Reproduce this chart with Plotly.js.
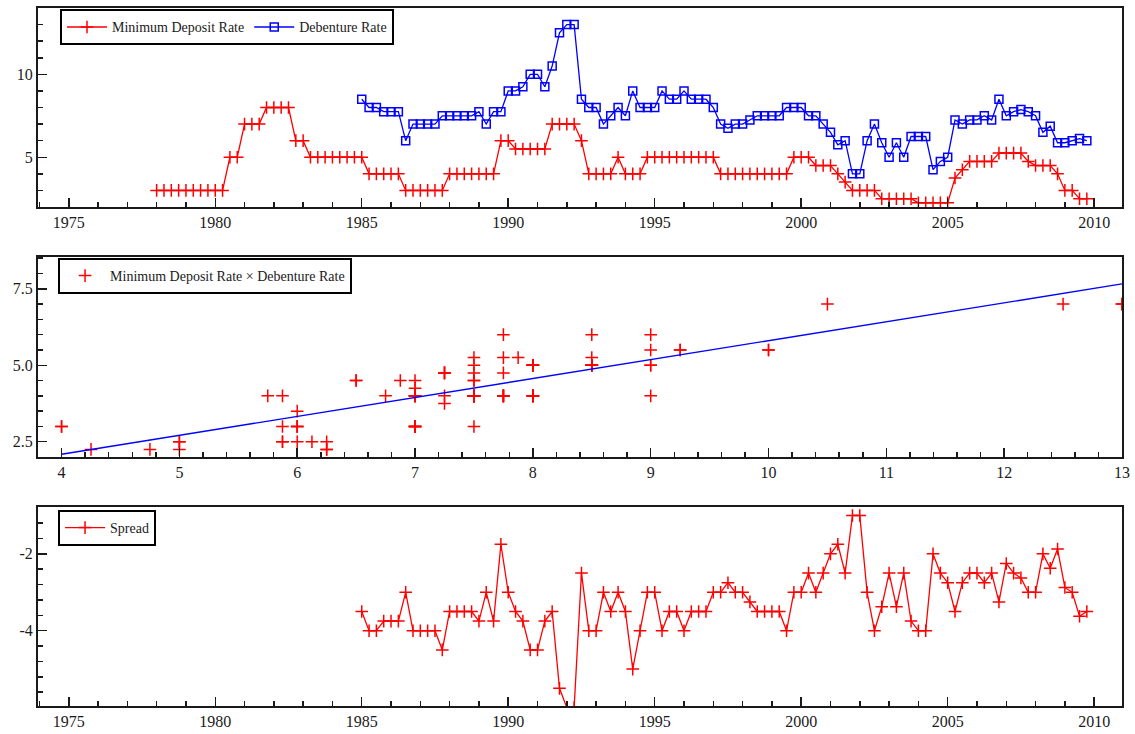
<!DOCTYPE html>
<html>
<head>
<meta charset="utf-8">
<script src="https://cdn.plot.ly/plotly-3.0.1.min.js"></script>
<style>html,body{margin:0;padding:0;background:#fff;}#chart{width:1135px;height:734px;}</style>
</head>
<body>
<div id="chart"></div>
<script>
// Quarterly data. Minimum Deposit Rate starts 1978Q1, Debenture Rate and Spread start 1985Q1.
const depositStart = 1978;
const depositRate = [
  3,3,3,3,   3,3,3,3,   3,3,5,5,   7,7,7,8,
  8,8,8,6,   6,5,5,5,   5,5,5,5,   5,4,4,4,
  4,4,3,3,   3,3,3,3,   4,4,4,4,   4,4,4,6,
  6,5.5,5.5,5.5, 5.5,5.5,7,7, 7,7,6,4, 4,4,4,5,
  4,4,4,5,   5,5,5,5,   5,5,5,5,   5,4,4,4,
  4,4,4,4,   4,4,4,5,   5,5,4.5,4.5, 4.5,4,3.5,3,
  3,3,3,2.5, 2.5,2.5,2.5,2.5, 2.25,2.25,2.25,2.25, 2.25,3.75,4.25,4.75,
  4.75,4.75,4.75,5.25, 5.25,5.25,5.25,4.75, 4.5,4.5,4.5,4, 3,3,2.5,2.5
];
const debentureStart = 1985;
const debentureRate = [
  8.5,8,8,7.75,   7.75,7.75,6,7,   7,7,7,7.5,   7.5,7.5,7.5,7.5,
  7.75,7,7.75,7.75, 9,9,9.25,10,  10,9.25,10.5,12.5, 13,13,8.5,8,
  8,7,7.5,8,      7.5,9,8,8,      8,9,8.5,8.5,  9,8.5,8.5,8.5,
  8,7,6.75,7,     7,7.25,7.5,7.5, 7.5,7.5,8,8,  8,7.5,7.5,7,
  6.5,5.75,6,4,   4,6,7,5.875,    5,5.875,5,6.25, 6.25,6.25,4.25,4.75,
  5,7.25,7,7.25,  7.25,7.5,7.25,8.5, 7.5,7.75,7.875,7.75, 7.5,6.5,6.875,5.875,
  5.875,6,6.125,6
];
const spreadStart = 1985;
const spread = [
  -3.5,-4,-4,-3.75,   -3.75,-3.75,-3,-4,   -4,-4,-4,-4.5,   -3.5,-3.5,-3.5,-3.5,
  -3.75,-3,-3.75,-1.75, -3,-3.5,-3.75,-4.5, -4.5,-3.75,-3.5,-5.5, -6,-6,-2.5,-4,
  -4,-3,-3.5,-3,      -3.5,-5,-4,-3,       -3,-4,-3.5,-3.5,   -4,-3.5,-3.5,-3.5,
  -3,-3,-2.75,-3,     -3,-3.25,-3.5,-3.5,  -3.5,-3.5,-4,-3,   -3,-2.5,-3,-2.5,
  -2,-1.75,-2.5,-1,   -1,-3,-4,-3.375,     -2.5,-3.375,-2.5,-3.75, -4,-4,-2,-2.5,
  -2.75,-3.5,-2.75,-2.5, -2.5,-2.75,-2.5,-3.25, -2.25,-2.5,-2.625,-3, -3,-2,-2.375,-1.875,
  -2.875,-3,-3.625,-3.5
];
// Fitted regression line in the scatter panel (end points)
const fitX = [4, 13];
const fitY = [2.09, 7.66];

const seriesNames = ['Minimum Deposit Rate', 'Debenture Rate', 'Minimum Deposit Rate \u00d7 Debenture Rate', 'Spread'];

function quarters(start, n) { const a = []; for (let i = 0; i < n; i++) a.push(start + i / 4); return a; }
const depX = quarters(depositStart, depositRate.length);
const debX = quarters(debentureStart, debentureRate.length);
const sprX = quarters(spreadStart, spread.length);

// scatter pairs: deposit rate vs debenture rate at the same quarter
const scX = [], scY = [];
debX.forEach((t, i) => {
  const j = Math.round((t - depositStart) * 4);
  if (j >= 0 && j < depositRate.length) { scX.push(debentureRate[i]); scY.push(depositRate[j]); }
});

const RED = '#ff0000', BLUE = '#0000ff', INK = '#1a1a1a';
const FONT = 'Liberation Serif, Times New Roman, serif';
const crossMarker = {symbol: 'cross-thin', size: 9, line: {color: RED, width: 1.5}, color: RED};

const traces = [
  {x: depX, y: depositRate, name: seriesNames[0], mode: 'lines+markers', xaxis: 'x', yaxis: 'y', legend: 'legend',
   line: {color: RED, width: 1.3}, marker: crossMarker},
  {x: debX, y: debentureRate, name: seriesNames[1], mode: 'lines+markers', xaxis: 'x', yaxis: 'y', legend: 'legend',
   line: {color: BLUE, width: 1.3}, marker: {symbol: 'square-open', size: 8, color: BLUE, line: {color: BLUE, width: 1.5}}},
  {x: scX, y: scY, name: seriesNames[2], mode: 'markers', xaxis: 'x2', yaxis: 'y2', legend: 'legend2', marker: crossMarker},
  {x: fitX, y: fitY, name: 'fit', mode: 'lines', xaxis: 'x2', yaxis: 'y2', showlegend: false, line: {color: BLUE, width: 1.4}},
  {x: sprX, y: spread, name: seriesNames[3], mode: 'lines+markers', xaxis: 'x3', yaxis: 'y3', legend: 'legend3',
   line: {color: RED, width: 1.3}, marker: crossMarker}
];

function axisBase(extra) {
  return Object.assign({
    showline: true, mirror: true, linewidth: 2, linecolor: INK,
    showgrid: false, zeroline: false,
    ticks: 'inside', ticklen: 9, tickwidth: 1.5, tickcolor: INK,
    tickfont: {family: FONT, size: 16, color: INK},
    fixedrange: true
  }, extra);
}
const legendBase = {
  orientation: 'h', xanchor: 'left', yanchor: 'top',
  bgcolor: '#ffffff', bordercolor: '#000000', borderwidth: 2,
  font: {family: FONT, size: 14, color: INK},
  itemwidth: 40, tracegroupgap: 0
};

const layout = {
  width: 1135, height: 734,
  margin: {l: 38, r: 13, t: 8, b: 28},
  paper_bgcolor: '#ffffff', plot_bgcolor: '#ffffff',
  showlegend: true,
  xaxis: axisBase({domain: [0, 1], anchor: 'y', range: [1973.95, 2010.95], tick0: 1975, dtick: 5,
    minor: {ticks: 'inside', ticklen: 5, tickwidth: 1.5, tickcolor: INK, dtick: 1, tick0: 1975}}),
  yaxis: axisBase({domain: [0.7149, 1], anchor: 'x', range: [2, 14], tick0: 0, dtick: 5,
    minor: {ticks: 'inside', ticklen: 5, tickwidth: 1.5, tickcolor: INK, dtick: 1, tick0: 0}}),
  xaxis2: axisBase({domain: [0, 1], anchor: 'y2', range: [3.8, 13.0001], tick0: 0, dtick: 1,
    minor: {ticks: 'inside', ticklen: 5, tickwidth: 1.5, tickcolor: INK, dtick: 0.2, tick0: 0}}),
  yaxis2: axisBase({domain: [0.3567, 0.6433], anchor: 'x2', range: [2, 8.54], tick0: 0, dtick: 2.5, tickformat: '.1f',
    minor: {ticks: 'inside', ticklen: 5, tickwidth: 1.5, tickcolor: INK, dtick: 0.5, tick0: 0}}),
  xaxis3: axisBase({domain: [0, 1], anchor: 'y3', range: [1973.95, 2010.95], tick0: 1975, dtick: 5,
    minor: {ticks: 'inside', ticklen: 5, tickwidth: 1.5, tickcolor: INK, dtick: 1, tick0: 1975}}),
  yaxis3: axisBase({domain: [0, 0.2851], anchor: 'x3', range: [-5.96, -0.78], tickmode: 'array',
    tickvals: [-4, -2], ticktext: ['-4', '-2'],
    minor: {ticks: 'inside', ticklen: 5, tickwidth: 1.5, tickcolor: INK, tickmode: 'linear', dtick: 0.4, tick0: 0}}),
  legend: Object.assign({}, legendBase, {x: 0.0203, y: 0.998}),
  legend2: Object.assign({}, legendBase, {x: 0.0185, y: 0.6418}),
  legend3: Object.assign({}, legendBase, {x: 0.0185, y: 0.2808})
};

Plotly.newPlot('chart', traces, layout, {displayModeBar: false, staticPlot: true});
</script>
</body>
</html>
